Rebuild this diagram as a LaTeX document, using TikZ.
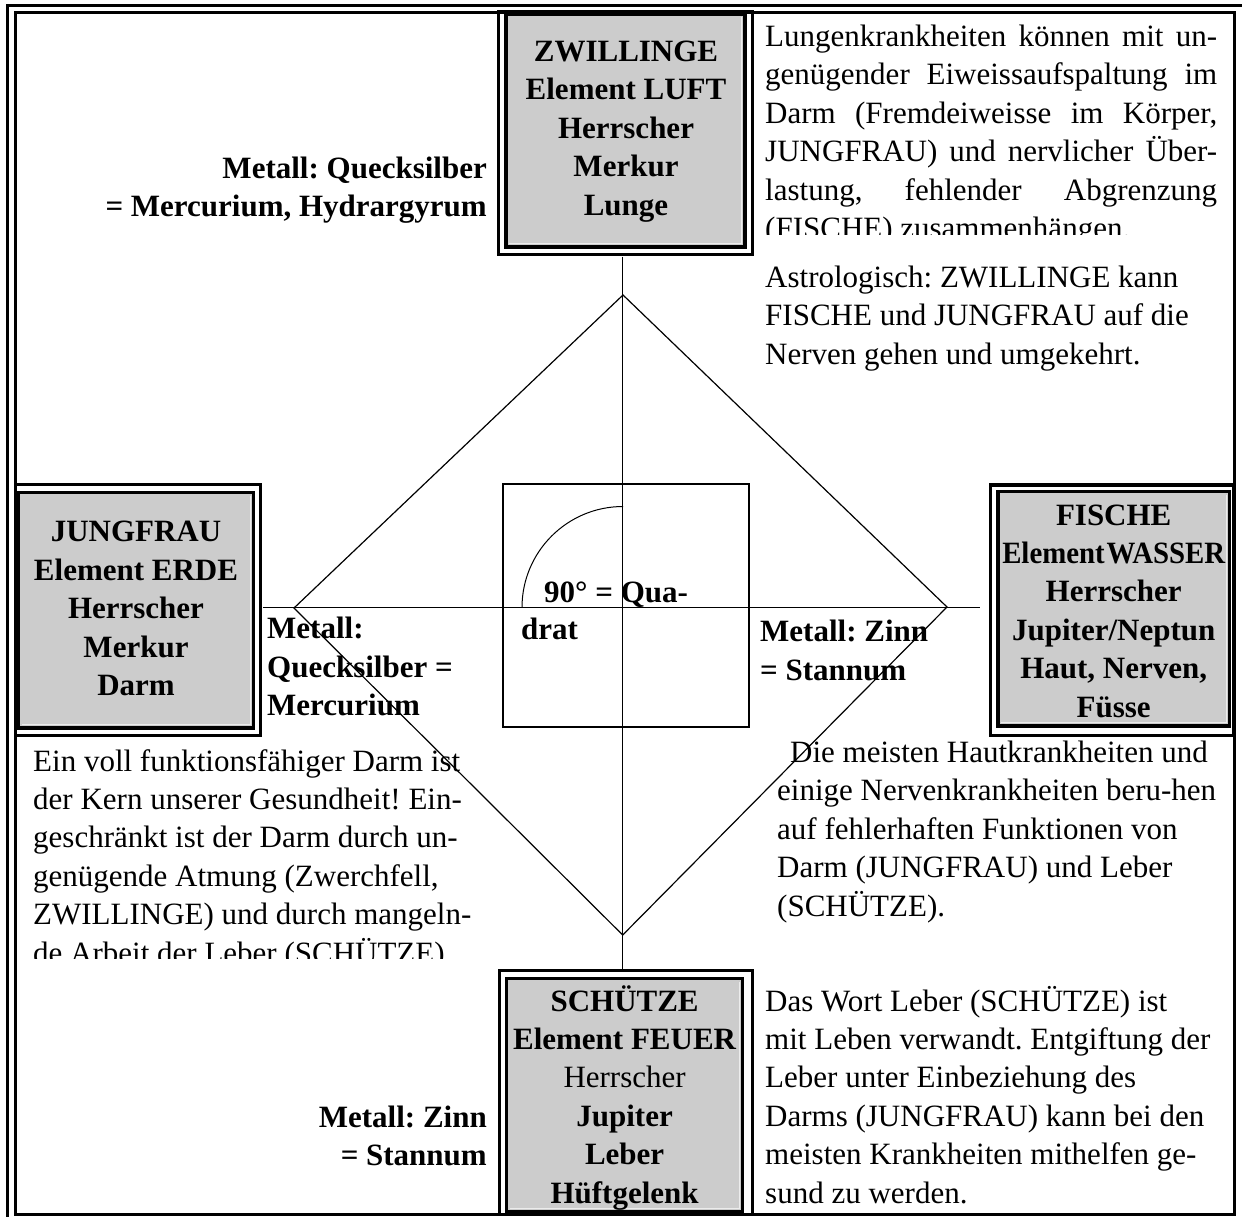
\documentclass[tikz,border=0pt]{standalone}
\usepackage{fontspec}
\setmainfont{Liberation Serif}
\definecolor{boxgray}{RGB}{204,204,204}
\definecolor{hilite}{RGB}{236,236,236}
\frenchspacing
\newcommand{\justline}[1]{\makebox[452pt][s]{#1}}
\begin{document}
\begin{tikzpicture}[x=1pt,y=-1pt,
  frameline/.style={line width=3pt},
  cellline/.style={line width=3.4pt},
  graybox/.style={line width=3.4pt, fill=boxgray},
  hiline/.style={line width=0.9pt, draw=hilite},
  geo/.style={line width=1.2pt},
  sqline/.style={line width=1.8pt},
  txt/.style={inner sep=0pt, font=\fontsize{31}{38.4}\selectfont\frenchspacing},
  btxt/.style={inner sep=0pt, font=\fontsize{31}{38.4}\selectfont\bfseries\frenchspacing},
  sign/.style={btxt, align=center, anchor=base},
  lpara/.style={txt, align=left, anchor=base west},
  rbold/.style={btxt, align=right, anchor=base east},
  lbold/.style={btxt, align=left, anchor=base west},
]
% note: multi-line nodes are anchored at the baseline of their LAST line
\useasboundingbox (0,0) rectangle (1242,1216);
\clip (0,0) rectangle (1242,1216);
\fill[white] (0,0) rectangle (1242,1216);

% ---------- page frame ----------
\draw[frameline] (7.5,1240) -- (7.5,5) -- (1260,5);
\draw[frameline] (15.5,12) rectangle (1234,1214.5);

% ---------- sign boxes ----------
% ZWILLINGE
\draw[graybox] (506,14) rectangle (745,247);
\draw[hiline] (509,243.5) -- (741.5,243.5) -- (741.5,17);
\draw[cellline] (498.5,12) rectangle (752.5,254.5);
% JUNGFRAU
\draw[graybox] (18.5,492.5) rectangle (253.5,728);
\draw[hiline] (21.5,724.5) -- (250,724.5) -- (250,496);
\draw[cellline] (15.5,484.7) rectangle (260.5,735.5);
% FISCHE
\draw[graybox] (998,491.3) rectangle (1229.5,726);
\draw[hiline] (1001,722.5) -- (1226,722.5) -- (1226,494.5);
\draw[cellline] (990.5,485) rectangle (1234,735.3);
% SCHUETZE
\draw[graybox] (506.7,978.3) rectangle (742.5,1212);
\draw[hiline] (510,1208.5) -- (739,1208.5) -- (739,981.5);
\draw[cellline] (499.3,970.5) rectangle (752.5,1214.5);

% ---------- geometry ----------
\coordinate (dT) at (623,295);
\coordinate (dR) at (947,607);
\coordinate (dB) at (622.7,935);
\coordinate (dL) at (294,608);
\coordinate (zwB) at (622.7,256.5);
\coordinate (scT) at (622.7,968.5);
\coordinate (hL) at (263,607.5);
\coordinate (hR) at (980,607.5);

\draw[sqline] (503,484) rectangle (749,727);
\draw[geo] (dT) -- (dR) -- (dB) -- (dL) -- cycle;
\draw[geo] (zwB) -- (scT);
\draw[geo] (hL) -- (hR);
\draw[line width=1pt] (522,607.5) arc[start angle=180, end angle=270, radius=101];

% ---------- sign texts ----------
\node[sign] (zw) at (626,215) {ZWILLINGE\\Element LUFT\\Herrscher\\Merkur\\Lunge};
\node[sign] (jf) at (136,695.5) {JUNGFRAU\\Element ERDE\\Herrscher\\Merkur\\Darm};
\node[sign] (fi) at (1113.7,717) {FISCHE\\\scalebox{0.93}[1]{Element\kern2pt WASSER}\\Herrscher\\Jupiter/Neptun\\Haut, Nerven,\\Füsse};
\node[sign] (sc) at (624.6,1203) {SCHÜTZE\\Element FEUER\\{\mdseries Herrscher}\\Jupiter\\Leber\\Hüftgelenk};

% ---------- metal labels ----------
\node[rbold] (mq1) at (487,216.4) {Metall: Quecksilber\\= Mercurium, Hydrargyrum};
\node[lbold] (mq2) at (267,715.5) {Metall:\\Quecksilber =\\Mercurium};
\node[lbold] (mz1) at (760,680) {Metall: Zinn\\= Stannum};
\node[rbold] (mz2) at (487,1165.4) {Metall: Zinn\\= Stannum};
\node[btxt, anchor=base west] (qa) at (544,602) {90° = Qua-};
\node[btxt, anchor=base west] (qb) at (521,639) {drat};

% ---------- paragraphs ----------
\begin{scope}
\clip (753,14) rectangle (1233,234);
\node[lpara] (p1) at (765,238.5) {\justline{Lungenkrankheiten können mit un-}\\\justline{genügender Eiweissaufspaltung im}\\\justline{Darm (Fremdeiweisse im Körper,}\\\justline{JUNGFRAU) und nervlicher Über-}\\\justline{lastung, fehlender Abgrenzung}\\(FISCHE) zusammenhängen.};
\end{scope}
\node[lpara] (p2) at (765,364) {Astrologisch: ZWILLINGE kann\\FISCHE und JUNGFRAU auf die\\Nerven gehen und umgekehrt.};
\begin{scope}
\clip (17,737) rectangle (498,958);
\node[lpara] (p3) at (33,963) {Ein voll funktionsfähiger Darm ist\\der Kern unserer Gesundheit! Ein-\\geschränkt ist der Darm durch un-\\genügende Atmung (Zwerchfell,\\ZWILLINGE) und durch mangeln-\\de Arbeit der Leber (SCHÜTZE)};
\end{scope}
\node[lpara] (p4) at (777,916) {\hspace*{13pt}Die meisten Hautkrankheiten und\\einige Nervenkrankheiten beru-hen\\auf fehlerhaften Funktionen von\\Darm (JUNGFRAU) und Leber\\(SCHÜTZE).};
\node[lpara] (p5) at (765,1203) {Das Wort Leber (SCHÜTZE) ist\\mit Leben verwandt. Entgiftung der\\Leber unter Einbeziehung des\\Darms (JUNGFRAU) kann bei den\\meisten Krankheiten mithelfen ge-\\sund zu werden.};
\end{tikzpicture}
\end{document}
